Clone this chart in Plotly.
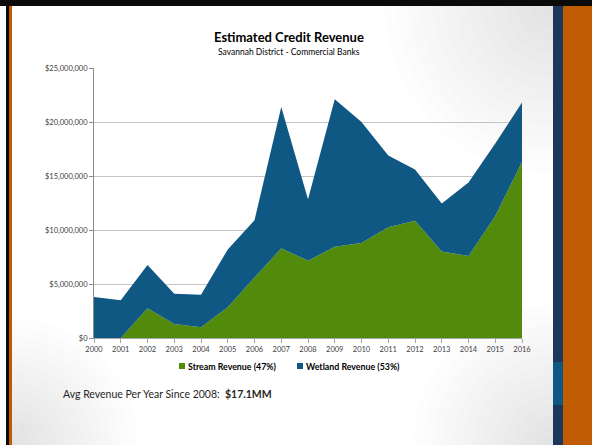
import plotly.graph_objects as go

years = list(range(2000, 2017))
stream_revenue = [0.0, 0.0, 2.75, 1.3, 1.0, 2.85, 5.6, 8.3, 7.15, 8.45, 8.8, 10.25, 10.85, 8.0, 7.6, 11.3, 16.3]
wetland_revenue = [3.8, 3.5, 4.0, 2.8, 3.0, 5.35, 5.3, 13.1, 5.7, 13.65, 11.2, 6.65, 4.75, 4.45, 6.8, 6.7, 5.5]
y_ticks = [0, 5e6, 10e6, 15e6, 20e6, 25e6]
y_tick_labels = ["$0", "$5,000,000", "$10,000,000", "$15,000,000", "$20,000,000", "$25,000,000"]
series_names = ["Stream Revenue (47%)", "Wetland Revenue (53%)"]
GREEN = "#528A0C"
BLUE = "#0F5884"

W, H = 592, 445
L, R, T, B = 94, 70, 68, 107
PW, PH = W - L - R, H - T - B

def xp(px):
    return (px - L) / PW

def yp(py):
    return (H - B - py) / PH

FONT = "Lato"

fig = go.Figure()
fig.add_trace(go.Scatter(
    x=years, y=[v * 1e6 for v in stream_revenue], name=series_names[0],
    stackgroup="one", mode="none", fillcolor=GREEN, showlegend=False,
))
fig.add_trace(go.Scatter(
    x=years, y=[v * 1e6 for v in wetland_revenue], name=series_names[1],
    stackgroup="one", mode="none", fillcolor=BLUE, showlegend=False,
))

shapes = []

def rect(x0, y0, x1, y1, color, layer="above"):
    shapes.append(dict(type="rect", xref="paper", yref="paper",
                       x0=xp(x0), x1=xp(x1), y0=yp(y0), y1=yp(y1),
                       fillcolor=color, line=dict(width=0), layer=layer))

def circ(cx, cy, r, color):
    shapes.append(dict(type="circle", xref="paper", yref="paper",
                       x0=xp(cx - r), x1=xp(cx + r), y0=yp(cy + r), y1=yp(cy - r),
                       fillcolor=color, line=dict(width=0), layer="below"))

# subtle gray gradients in the background (corners)
for i in range(14):
    a = 0.0075
    circ(553, 6, 12 * (i + 1), f"rgba(0,0,0,{a})")
    circ(553, 445, 10 * (i + 1), f"rgba(0,0,0,{a})")
    circ(12, 445, 9 * (i + 1), f"rgba(0,0,0,{a})")

# cover overflow of circles outside the slide area
rect(0, 0, 592, 6, "#0A0A0A")
rect(0, 0, 6, 445, "#FFFFFF")
rect(6, 0, 9, 445, "#0A0A0A")
rect(9, 6, 12, 445, "#BF5B00")
rect(553, 6, 563, 445, "#1C365C")
rect(553, 362, 563, 405, "#0F5884")
rect(563, 6, 592, 445, "#BF5B00")
rect(0, 0, 592, 6, "#0A0A0A")

# legend squares
rect(179, 363, 185, 369, GREEN)
rect(297, 363, 303, 369, BLUE)

annotations = [
    dict(text="<b>Estimated Credit Revenue</b>", x=xp(289), y=yp(37), xref="paper", yref="paper",
         showarrow=False, font=dict(family=FONT, size=13, color="#000000"), xanchor="center", yanchor="middle"),
    dict(text="Savannah District - Commercial Banks", x=xp(289), y=yp(52), xref="paper", yref="paper",
         showarrow=False, font=dict(family=FONT, size=8.5, color="#000000"), xanchor="center", yanchor="middle"),
    dict(text="<b>" + series_names[0] + "</b>", x=xp(186), y=yp(366), xref="paper", yref="paper",
         showarrow=False, font=dict(family=FONT, size=8.8, color="#000000"), xanchor="left", yanchor="middle"),
    dict(text="<b>" + series_names[1] + "</b>", x=xp(304), y=yp(366), xref="paper", yref="paper",
         showarrow=False, font=dict(family=FONT, size=8.8, color="#000000"), xanchor="left", yanchor="middle"),
    dict(text="Avg Revenue Per Year Since 2008:  <b>$17.1MM</b>", x=xp(61), y=yp(394), xref="paper", yref="paper",
         showarrow=False, font=dict(family=FONT, size=10.5, color="#262626"), xanchor="left", yanchor="middle"),
    dict(text="(", x=xp(22), y=yp(429), xref="paper", yref="paper",
         showarrow=False, font=dict(family=FONT, size=16, color="#E2E2E2"), xanchor="center", yanchor="middle"),
]

fig.update_layout(
    width=W, height=H,
    margin=dict(l=L, r=R, t=T, b=B, pad=0),
    paper_bgcolor="#FFFFFF", plot_bgcolor="rgba(0,0,0,0)",
    showlegend=False,
    shapes=shapes, annotations=annotations,
    font=dict(family=FONT, color="#404040"),
)
fig.update_xaxes(
    range=[2000, 2016], tickvals=years, ticktext=[str(y) for y in years],
    showgrid=False, zeroline=False, showline=True, linecolor="#A6A6A6", linewidth=1,
    ticks="outside", ticklen=4, tickcolor="#A6A6A6", tickfont=dict(family=FONT, size=7.5, color="#404040"),
)
fig.update_yaxes(
    range=[0, 25e6], tickvals=y_ticks, ticktext=y_tick_labels,
    showgrid=True, gridcolor="#C4C4C4", gridwidth=1, zeroline=False,
    showline=True, linecolor="#8C8C8C", linewidth=1,
    ticks="outside", ticklen=4, tickcolor="#8C8C8C", tickfont=dict(family=FONT, size=7.5, color="#404040"),
)

fig.write_html("out.html")
